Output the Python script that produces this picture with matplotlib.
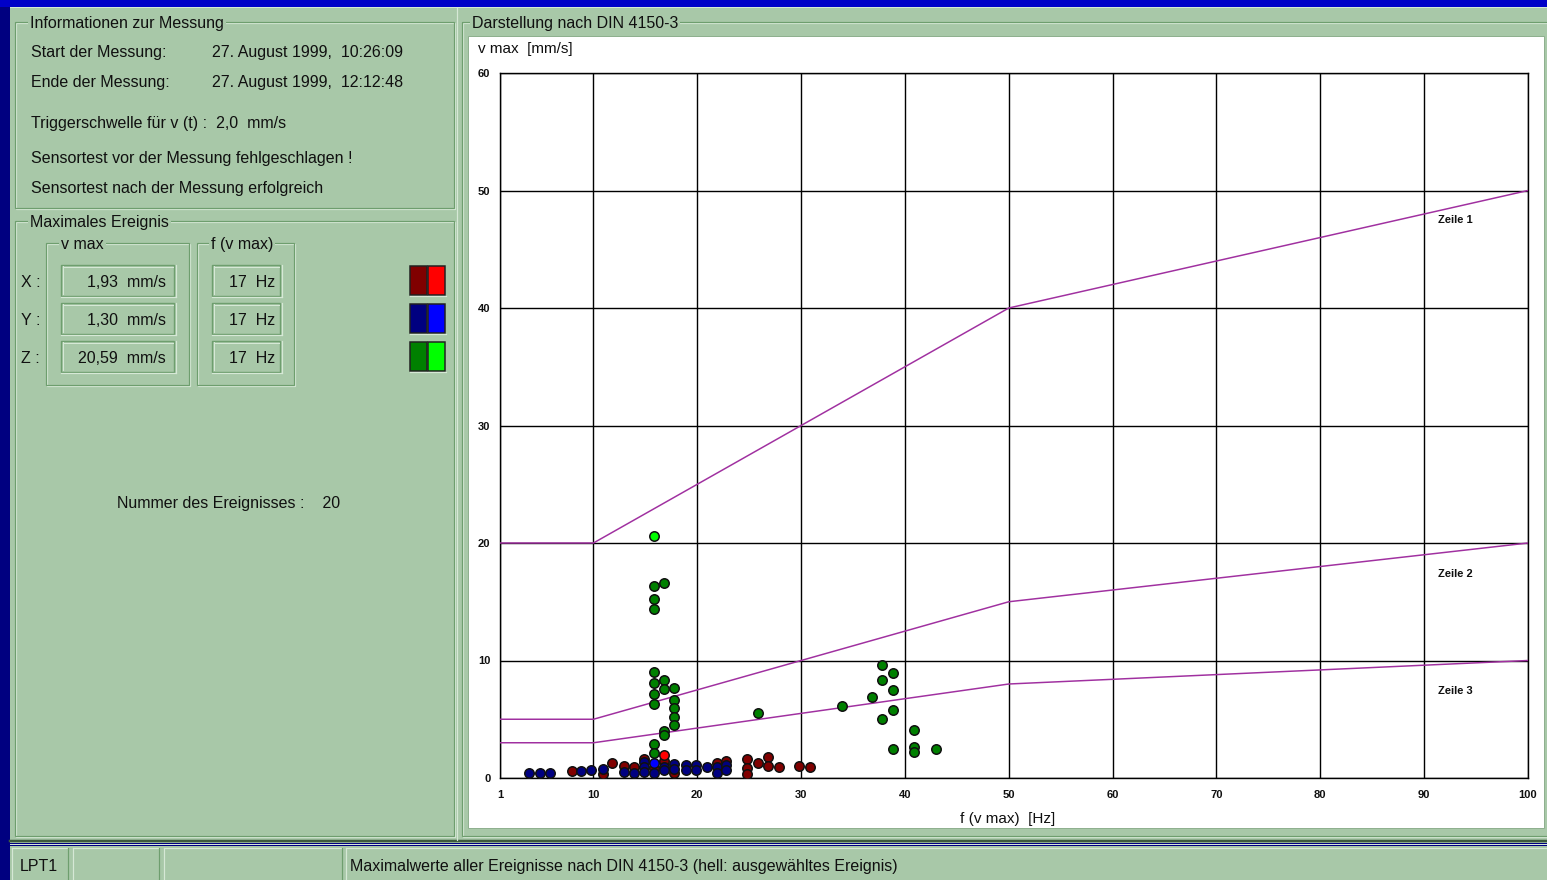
import matplotlib
matplotlib.use("Agg")
import matplotlib.pyplot as plt
from matplotlib.patches import Rectangle
from matplotlib.lines import Line2D

# ---------------- data ----------------
x_ticks = [1, 10, 20, 30, 40, 50, 60, 70, 80, 90, 100]
y_ticks = [0, 10, 20, 30, 40, 50, 60]

# DIN 4150-3 limit lines (frequency Hz, v max mm/s)
zeile1_f = [1, 10, 50, 100]
zeile1_v = [20, 20, 40, 50]
zeile2_f = [1, 10, 50, 100]
zeile2_v = [5, 5, 15, 20]
zeile3_f = [1, 10, 50, 100]
zeile3_v = [3, 3, 8, 10]
zeile_labels = ["Zeile 1", "Zeile 2", "Zeile 3"]
zeile_label_v = [47.5, 17.4, 7.4]

# events, X component (dark red)
x_f = [7.9, 10.9, 11.8, 12.9, 13.9, 14.9, 15.8, 16.8, 17.8, 21.9, 22.8, 24.8, 24.8,
       24.8, 25.8, 26.85, 26.85, 27.9, 29.8, 30.9]
x_v = [0.6, 0.3, 1.25, 1.05, 0.95, 1.6, 0.85, 1.45, 0.4, 1.3, 1.45, 1.6, 0.85,
       0.3, 1.25, 1.8, 1.05, 0.95, 1.05, 0.95]
# events, Y component (dark blue)
y_f = [3.8, 4.85, 5.8, 8.8, 9.8, 10.9, 12.9, 13.9, 14.9, 14.9, 14.9, 15.8, 16.8, 16.8,
       17.8, 17.8, 18.9, 18.9, 19.9, 19.9, 20.9, 21.9, 21.9, 22.8, 22.8]
y_v = [0.4, 0.4, 0.4, 0.6, 0.7, 0.8, 0.55, 0.4, 1.35, 0.95, 0.55, 0.4, 0.95, 0.7,
       1.2, 0.75, 1.1, 0.7, 1.1, 0.7, 0.95, 0.95, 0.45, 1.1, 0.7]
# events, Z component (dark green)
z_f = [15.8, 16.8, 15.8, 15.8, 15.8, 15.8, 15.8, 15.8, 16.8, 16.8, 17.8, 17.8, 17.8,
       17.8, 17.8, 16.8, 16.8, 15.8, 15.8, 25.8, 33.9, 37.8, 38.8, 37.8, 38.8, 36.8,
       38.8, 37.8, 40.9, 38.8, 40.9, 40.9, 43.0]
z_v = [16.3, 16.6, 15.2, 14.4, 9.05, 8.1, 7.15, 6.3, 8.3, 7.55, 7.65, 6.65, 5.95,
       5.2, 4.5, 4.0, 3.65, 2.9, 2.15, 5.5, 6.15, 9.6, 8.95, 8.3, 7.5, 6.9,
       5.75, 5.05, 4.05, 2.45, 2.6, 2.25, 2.5]
# selected event (light colours)
sel_x_f, sel_x_v = [16.8], [1.93]
sel_y_f, sel_y_v = [15.8], [1.30]
sel_z_f, sel_z_v = [15.8], [20.59]

# ---------------- style ----------------
W, H = 1547, 880
PANEL = "#A8C8A8"
DARK = "#6E9E6E"
LIGHT = "#D6E8D6"
NAVY = "#000080"
LIMIT = "#A030A0"
UI = ["Liberation Sans", "DejaVu Sans"]
PX = 0.72  # one pixel in points at 100 dpi
FS = 11.5

fig = plt.figure(figsize=(W / 100, H / 100), dpi=100, facecolor=NAVY)
bg = fig.add_axes([0, 0, 1, 1], zorder=0)
bg.set_xlim(0, W)
bg.set_ylim(H, 0)
bg.axis("off")


def rect(x0, y0, x1, y1, fc="none", ec="none", lw=1.0, z=1):
    bg.add_patch(Rectangle((x0, y0), x1 - x0, y1 - y0, facecolor=fc, edgecolor=ec,
                           linewidth=lw * PX, zorder=z))


def hline(x0, x1, y, c, lw=1.0, z=2):
    bg.add_line(Line2D([x0, x1], [y, y], color=c, linewidth=lw * PX, zorder=z))


def vline(x, y0, y1, c, lw=1.0, z=2):
    bg.add_line(Line2D([x, x], [y0, y1], color=c, linewidth=lw * PX, zorder=z))


def groupbox(x0, y0, x1, y1, title=None, tx=None, fs=FS):
    rect(x0 + 1, y0 + 1, x1 + 1, y1 + 1, ec=LIGHT, lw=1.2, z=2)
    rect(x0, y0, x1, y1, ec=DARK, lw=1.2, z=2)
    if title:
        bg.text(tx, y0 + 1.5, title, fontsize=fs, family=UI, va="center", ha="left",
                color="#101010", zorder=3,
                bbox=dict(facecolor=PANEL, edgecolor="none", pad=1.5))


def sunken(x0, y0, x1, y1):
    rect(x0, y0, x1, y1, ec=DARK, lw=1.4, z=2)
    hline(x0 + 1.5, x1 - 1.5, y0 + 2, LIGHT, 1.0, 3)
    vline(x0 + 2, y0 + 1.5, y1 - 1.5, LIGHT, 1.0, 3)
    hline(x0, x1 + 1.5, y1 + 1.5, LIGHT, 1.2, 3)
    vline(x1 + 1.5, y0, y1 + 1.5, LIGHT, 1.2, 3)


def txt(x, y, s, ha="left", fs=FS, **kw):
    bg.text(x, y + 1.5, s, fontsize=fs, family=UI, ha=ha, va="center", color="#101010",
            zorder=4, **kw)


# window chrome
rect(0, 0, W, 7, fc="#0000C8", z=0.5)
rect(10, 7, W, 843, fc=PANEL, z=0.6)
hline(10, W, 7.5, LIGHT, 1.0, 1)
rect(10, 846, W, H, fc=PANEL, z=0.6)
hline(10, W, 841, "#3C5A3C", 2.5, 1)
hline(10, W, 844, LIGHT, 1.0, 1)

# left panels
groupbox(15, 22, 454, 208, "Informationen zur Messung", 30)
txt(31, 51, "Start der Messung:")
txt(212, 51, "27. August 1999,  10:26:09")
txt(31, 81, "Ende der Messung:")
txt(212, 81, "27. August 1999,  12:12:48")
txt(31, 122, "Triggerschwelle für v (t) :  2,0  mm/s")
txt(31, 157, "Sensortest vor der Messung fehlgeschlagen !")
txt(31, 187, "Sensortest nach der Messung erfolgreich")

groupbox(15, 221, 454, 836, "Maximales Ereignis", 30)
groupbox(46, 243, 189, 385, "v max", 61)
groupbox(197, 243, 294, 385, "f (v max)", 211)

rows = [("X :", "1,93  mm/s", "17  Hz", "#800000", "#FF0000", 281),
        ("Y :", "1,30  mm/s", "17  Hz", "#000080", "#0000FF", 319),
        ("Z :", "20,59  mm/s", "17  Hz", "#008000", "#00FF00", 357)]
for lab, val, fr, c1, c2, yc in rows:
    txt(21, yc, lab)
    sunken(61, yc - 16, 174, yc + 15)
    txt(166, yc, val, ha="right")
    sunken(212, yc - 16, 280, yc + 15)
    txt(275, yc, fr, ha="right")
    rect(410, yc - 15, 427, yc + 14, fc=c1, ec="#202020", lw=1.5, z=3)
    rect(428, yc - 15, 445, yc + 14, fc=c2, ec="#202020", lw=1.5, z=3)
    hline(410, 446, yc + 15.5, LIGHT, 1.2, 3)

txt(117, 502, "Nummer des Ereignisses :    20")

# right panel
vline(457, 8, 840, LIGHT, 1.2, 1)
groupbox(462, 22, W + 5, 836, "Darstellung nach DIN 4150-3", 472)
rect(468, 36, 1544, 828, fc="white", ec="#8FB08F", lw=1.0, z=2.5)
txt(478, 48, "v max  [mm/s]", fs=11)
txt(1008, 818, "f (v max)  [Hz]", ha="center", fs=11)

# status bar
cells = [(12, 68), (73, 159), (164, 342), (346, W + 5)]
for a, b in cells:
    hline(a, b, 848, LIGHT, 1.2, 2)
    vline(a, 848, H, LIGHT, 1.2, 2)
    vline(b, 848, H, DARK, 1.2, 2)
txt(20, 865, "LPT1")
txt(350, 865, "Maximalwerte aller Ereignisse nach DIN 4150-3 (hell: ausgewähltes Ereignis)")

# ---------------- chart ----------------
ax = fig.add_axes([500 / W, 1 - 778 / H, 1028 / W, 705 / H], zorder=3)
ax.set_facecolor("white")
ax.set_xlim(1, 100)
ax.set_ylim(0, 60)
ax.set_xticks(x_ticks)
ax.set_xticklabels([str(t) for t in x_ticks])
ax.set_yticks(y_ticks)
ax.set_yticklabels([str(t) for t in y_ticks])
ax.tick_params(length=0, labelsize=8, pad=7, colors="#101010")
ax.tick_params(axis="x", pad=9)
for lab in ax.get_xticklabels() + ax.get_yticklabels():
    lab.set_fontweight("bold")
    lab.set_family(UI)
ax.grid(True, color="black", linewidth=1.4 * PX)
ax.set_axisbelow(True)
for sp in ax.spines.values():
    sp.set_linewidth(1.4 * PX)
    sp.set_color("black")

for f, v in [(zeile1_f, zeile1_v), (zeile2_f, zeile2_v), (zeile3_f, zeile3_v)]:
    ax.plot(f, v, color=LIMIT, linewidth=1.5 * PX, zorder=3)
for lab, v in zip(zeile_labels, zeile_label_v):
    ax.text(91.3, v, lab, fontsize=8, fontweight="bold", family=UI, va="center",
            color="#101010", zorder=4)

mk = dict(marker="o", linestyle="none", markersize=6.8, markeredgecolor="#101010",
          markeredgewidth=1.1, zorder=5)
ax.plot(z_f, z_v, color="#008000", **mk)
ax.plot(x_f, x_v, color="#800000", **mk)
ax.plot(y_f, y_v, color="#000080", **mk)
ax.plot(sel_x_f, sel_x_v, color="#FF0000", **mk)
ax.plot(sel_y_f, sel_y_v, color="#0000FF", **mk)
ax.plot(sel_z_f, sel_z_v, color="#00FF00", **mk)

fig.savefig("out.png", dpi=100, facecolor=NAVY)
